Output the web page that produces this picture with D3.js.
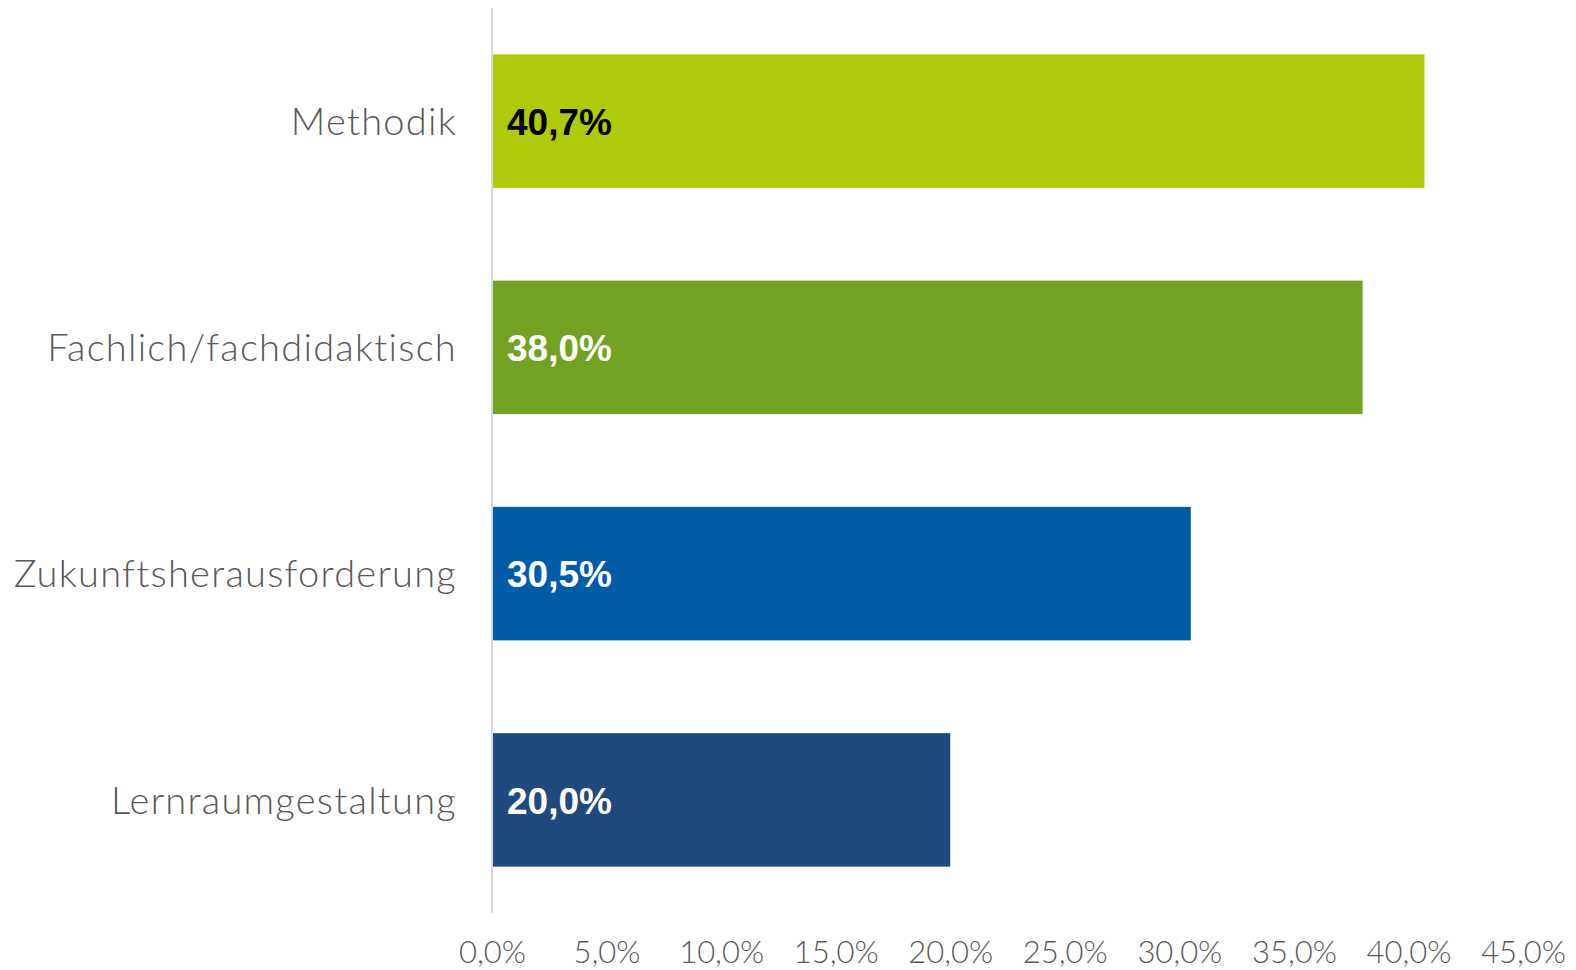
<!DOCTYPE html>
<html>
<head>
<meta charset="utf-8">
<script src="https://cdn.jsdelivr.net/npm/d3@7"></script>
<style>
  html, body { margin: 0; padding: 0; background: #fff; }
  svg { display: block; }
</style>
</head>
<body>
<svg id="chart" width="1576" height="970"></svg>
<script>
// Kategorien und Anteile (in Prozent)
const categories = ["Methodik", "Fachlich/fachdidaktisch", "Zukunftsherausforderung", "Lernraumgestaltung"];
const values = [40.7, 38.0, 30.5, 20.0];
const barColors = ["#afca0b", "#72a221", "#005ca9", "#204a7d"];
const labelColors = ["#000000", "#ffffff", "#ffffff", "#ffffff"];
const tickValues = [0, 5, 10, 15, 20, 25, 30, 35, 40, 45];

const fmt = v => v.toFixed(1).replace(".", ",") + "%";

const svg = d3.select("#chart");
const x = d3.scaleLinear().domain([0, 45]).range([492, 1523]);
const y = d3.scaleBand().domain(categories).range([8, 913]).paddingInner(0.41).paddingOuter(0.205);

const font = "Lato, 'Open Sans', sans-serif";

// Balken
svg.append("g").selectAll("rect")
  .data(categories)
  .join("rect")
  .attr("x", x(0) + 1)
  .attr("y", d => y(d))
  .attr("width", (d, i) => x(values[i]) - x(0) - 1)
  .attr("height", y.bandwidth())
  .attr("fill", (d, i) => barColors[i]);

// Senkrechte Achsenlinie
svg.append("line")
  .attr("x1", x(0)).attr("x2", x(0))
  .attr("y1", 8).attr("y2", 913)
  .attr("stroke", "#d9d9d9").attr("stroke-width", 2);

// Kategorienbeschriftung
svg.append("g").selectAll("text")
  .data(categories)
  .join("text")
  .attr("x", 457)
  .attr("y", d => y(d) + y.bandwidth() / 2)
  .attr("dy", "0.36em")
  .attr("text-anchor", "end")
  .attr("font-family", font)
  .attr("font-weight", 300)
  .attr("font-size", 38)
  .attr("letter-spacing", 1.25)
  .attr("fill", "#595959")
  .text(d => d);

// Wertebeschriftung in den Balken
svg.append("g").selectAll("text")
  .data(categories)
  .join("text")
  .attr("x", x(0) + 15)
  .attr("y", d => y(d) + y.bandwidth() / 2)
  .attr("dy", "0.37em")
  .attr("font-family", "'Liberation Sans', Arial, sans-serif")
  .attr("font-weight", "bold")
  .attr("font-size", 37)
  .attr("fill", (d, i) => labelColors[i])
  .text((d, i) => fmt(values[i]));

// x-Achse
const xAxis = d3.axisBottom(x)
  .tickValues(tickValues)
  .tickSize(0)
  .tickPadding(0)
  .tickFormat(fmt);

const gx = svg.append("g")
  .attr("transform", "translate(0,941)")
  .call(xAxis);
gx.select(".domain").remove();
gx.selectAll("text")
  .attr("dy", "0.71em")
  .attr("font-family", font)
  .attr("font-weight", 300)
  .attr("font-size", 31)
  .attr("fill", "#595959");
</script>
</body>
</html>
